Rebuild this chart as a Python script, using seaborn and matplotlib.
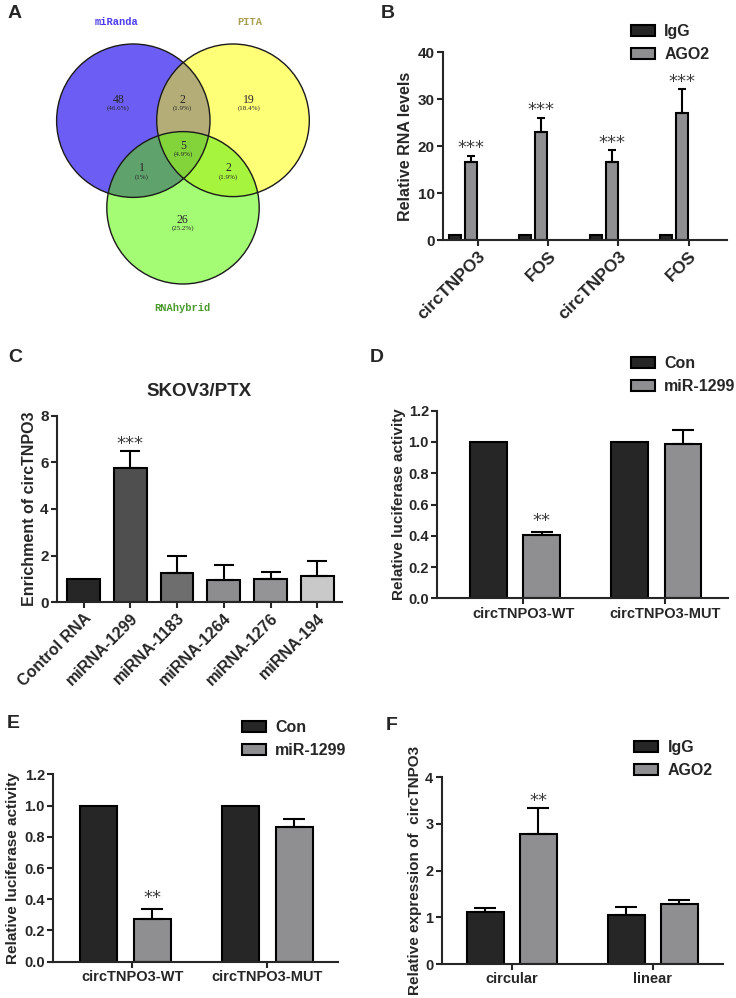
import matplotlib
matplotlib.use('Agg')
import matplotlib.pyplot as plt
from matplotlib.patches import Circle, Patch
import seaborn as sns
import pandas as pd
import numpy as np

# ---- data ----
# A: Venn of predicted miRNAs
venn_names = ['miRanda', 'PITA', 'RNAhybrid']
venn_regions = ['100', '010', '001', '110', '101', '011', '111']
venn_counts = [48, 19, 26, 2, 1, 2, 5]

# B: RIP, IgG vs AGO2
b_labels = ['circTNPO3', 'FOS', 'circTNPO3', 'FOS']
b_series = ['IgG', 'AGO2']
b_igg = [1.0, 1.0, 1.0, 1.0]
b_igg_err = [0, 0, 0, 0]
b_ago2 = [16.6, 23.1, 16.6, 27.1]
b_ago2_err = [1.4, 3.0, 2.5, 5.0]

# C: biotin pulldown, SKOV3/PTX
c_labels = ['Control RNA', 'miRNA-1299', 'miRNA-1183', 'miRNA-1264', 'miRNA-1276', 'miRNA-194']
c_values = [1.0, 5.75, 1.24, 0.96, 0.99, 1.13]
c_err = [0, 0.75, 0.76, 0.64, 0.32, 0.66]

# D / E: luciferase reporter
lucif_groups = ['circTNPO3-WT', 'circTNPO3-MUT']
lucif_series = ['Con', 'miR-1299']
d_con = [1.0, 1.0]
d_con_err = [0, 0]
d_mir = [0.405, 0.99]
d_mir_err = [0.022, 0.085]
e_con = [1.0, 1.0]
e_con_err = [0, 0]
e_mir = [0.275, 0.86]
e_mir_err = [0.065, 0.055]

# F: RIP circular vs linear
f_groups = ['circular', 'linear']
f_series = ['IgG', 'AGO2']
f_igg = [1.11, 1.06]
f_igg_err = [0.10, 0.16]
f_ago2 = [2.78, 1.29]
f_ago2_err = [0.57, 0.09]

DARK = '#262626'
GREY = '#8f8f92'
c_colors = ['#262626', '#4f4f4f', '#6e6e6e', '#8d8d90', '#949497', '#c9c9c9']

sns.set_style('ticks')
plt.rcParams['font.family'] = ['Liberation Sans', 'DejaVu Sans']
plt.rcParams['font.weight'] = 'bold'
plt.rcParams['axes.labelweight'] = 'bold'
plt.rcParams['axes.titleweight'] = 'bold'

W, H = 736, 998
fig = plt.figure(figsize=(W / 100, H / 100), dpi=100)


def add_ax(left, top, right, bottom):
    return fig.add_axes([left / W, 1 - bottom / H, (right - left) / W, (bottom - top) / H])


def style(ax, ylim, yticks, fmt='{:g}', size=10):
    sns.despine(ax=ax)
    for s in ['left', 'bottom']:
        ax.spines[s].set_linewidth(1.5)
    ax.set_ylim(*ylim)
    ax.set_yticks(yticks, [fmt.format(t) for t in yticks])
    ax.tick_params(width=1.5, length=4, labelsize=size, pad=2)


def stars(ax, xs, tops, text, off):
    for x, y in zip(xs, tops):
        ax.annotate(text, (x, y), xytext=(0, off), textcoords='offset points',
                    ha='center', va='baseline', fontsize=13, fontweight='normal',
                    color='#3a3a3a', family='DejaVu Sans')


def grouped(ax, groups, names, series, errs, colors, width, gap, capsize):
    n, k = len(groups), len(names)
    df = pd.DataFrame({
        'x': np.tile(np.arange(n), k),
        'series': np.repeat(names, n),
        'value': np.concatenate(series),
    })
    sns.barplot(data=df, x='x', y='value', hue='series', hue_order=names,
                palette=colors, width=width, gap=gap, edgecolor='black',
                linewidth=1.5, errorbar=None, legend=False, saturation=1, ax=ax)
    centers = []
    for j in range(k):
        xs = np.arange(n) + (j - (k - 1) / 2) * width / k
        vals = np.array(series[j])
        e = np.array(errs[j])
        m = e > 0
        if m.any():
            ax.errorbar(xs[m], vals[m], yerr=[np.zeros(m.sum()), e[m]], fmt='none',
                        ecolor='black', elinewidth=1.5, capsize=capsize, capthick=1.5)
        centers.append(xs)
    return centers


def legend(names, colors, x, y):
    handles = [Patch(facecolor=c, edgecolor='black', linewidth=1.5, label=nm)
               for nm, c in zip(names, colors)]
    fig.legend(handles=handles, loc='upper left', bbox_to_anchor=(x / W, 1 - y / H),
               frameon=False, borderpad=0, borderaxespad=0, handlelength=1.5,
               handleheight=0.72, handletextpad=0.6, labelspacing=0.5,
               prop={'size': 11.5, 'weight': 'bold'})


# ---- A: Venn ----
axA = add_ax(0, 0, 360, 320)
circles = [(133.3, 120.7, 76.7), (233.0, 120.3, 76.3), (183.0, 207.8, 76.2)]
region_colors = {'000': '#ffffff', '100': '#6c5ef5', '010': '#ffff78', '001': '#a4fc74',
                 '110': '#b5ad78', '101': '#60a26c', '011': '#a8f43e', '111': '#84d33a'}
gx, gy = np.meshgrid(np.linspace(0, 360, 1440), np.linspace(0, 320, 1280))
codes = np.zeros(gx.shape, dtype=int)
for i, (cx, cy, r) in enumerate(circles):
    codes += ((gx - cx) ** 2 + (gy - cy) ** 2 <= r ** 2).astype(int) << (2 - i)
lut = np.array([matplotlib.colors.to_rgb(region_colors[format(v, '03b')]) for v in range(8)])
axA.imshow(lut[codes], extent=(0, 360, 320, 0), interpolation='antialiased')
for cx, cy, r in circles:
    axA.add_patch(Circle((cx, cy), r, fill=False, ec='#1a1a1a', lw=1))
axA.set_xlim(0, 360)
axA.set_ylim(320, 0)
axA.axis('off')

total = sum(venn_counts)
region_pos = {'100': (118.3, 100), '010': (249.3, 100), '001': (182.7, 220),
              '110': (182.7, 100), '101': (141.7, 168.3), '011': (228.3, 168.3),
              '111': (183.0, 145.7)}
for reg, cnt in zip(venn_regions, venn_counts):
    px, py = region_pos[reg]
    pct = round(100 * cnt / total, 1)
    axA.text(px, py, str(cnt), ha='center', va='center', fontsize=8.5,
             family='Liberation Serif', fontweight='normal')
    axA.text(px, py + 8.5, f'({pct:g}%)', ha='center', va='center', fontsize=5,
             family='Liberation Serif', fontweight='normal')
name_pos = [(116.7, 22.3, '#4b3cf0'), (249.3, 22.3, '#a8a050'), (182.7, 308.3, '#4a9a30')]
for nm, (px, py, col) in zip(venn_names, name_pos):
    axA.text(px, py, nm, ha='center', va='center', fontsize=7.5, color=col,
             family='Liberation Mono', fontweight='bold')

# ---- B ----
axB = add_ax(443, 52.3, 727, 240)
cB = grouped(axB, b_labels, b_series, [b_igg, b_ago2], [b_igg_err, b_ago2_err],
             [DARK, GREY], 0.456, 0.25, 2.6)
style(axB, (0, 40), [0, 10, 20, 30, 40], size=11)
axB.set_xlim(-0.285, 3.755)
axB.set_xticks(np.arange(4) + 0.21, b_labels, rotation=45, ha='right',
               rotation_mode='anchor', fontsize=12.5)
axB.set_xlabel('')
axB.set_ylabel('Relative RNA levels', fontsize=11.5, labelpad=3)
stars(axB, cB[1], np.array(b_ago2) + np.array(b_ago2_err), '***', 2)
legend(b_series, [DARK, GREY], 630.7, 24)

# ---- C ----
axC = add_ax(57, 415.7, 342, 602.3)
dfC = pd.DataFrame({'label': c_labels, 'value': c_values})
sns.barplot(data=dfC, x='label', y='value', hue='label', palette=c_colors,
            width=0.7, edgecolor='black', linewidth=1.5, errorbar=None,
            legend=False, saturation=1, ax=axC)
ce = np.array(c_err)
m = ce > 0
axC.errorbar(np.arange(6)[m], np.array(c_values)[m], yerr=[np.zeros(m.sum()), ce[m]],
             fmt='none', ecolor='black', elinewidth=1.5, capsize=7, capthick=1.5)
style(axC, (0, 8), [0, 2, 4, 6, 8], size=11)
axC.set_xlim(-0.57, 5.53)
axC.set_xticks(range(6), c_labels, rotation=45, ha='right', rotation_mode='anchor',
               fontsize=11.5)
axC.set_xlabel('')
axC.set_ylabel('Enrichment of circTNPO3', fontsize=11.5, labelpad=2)
axC.set_title('SKOV3/PTX', fontsize=13.5, pad=14)
stars(axC, [1], [c_values[1] + c_err[1]], '***', 1)

# ---- D ----
axD = add_ax(437.3, 410.7, 728, 598.3)
cD = grouped(axD, lucif_groups, lucif_series, [d_con, d_mir], [d_con_err, d_mir_err],
             [DARK, GREY], 0.756, 0.31, 8)
style(axD, (0, 1.2), [0, 0.2, 0.4, 0.6, 0.8, 1.0, 1.2], '{:.1f}', size=10.5)
axD.set_xlim(-0.55, 1.508)
axD.set_xticks([0.06, 1.06], lucif_groups, fontsize=10.5)
axD.set_xlabel('')
axD.set_ylabel('Relative luciferase activity', fontsize=11, labelpad=2)
stars(axD, [cD[1][0]], [d_mir[0] + d_mir_err[0]], '**', 4)
legend(lucif_series, [DARK, GREY], 630.7, 356)

# ---- E ----
axE = add_ax(53.3, 774.3, 338.3, 961.7)
cE = grouped(axE, lucif_groups, lucif_series, [e_con, e_mir], [e_con_err, e_mir_err],
             [DARK, GREY], 0.756, 0.31, 8)
style(axE, (0, 1.2), [0, 0.2, 0.4, 0.6, 0.8, 1.0, 1.2], '{:.1f}', size=10.5)
axE.set_xlim(-0.507, 1.5)
axE.set_xticks([0.05, 1.0], lucif_groups, fontsize=10.5)
axE.set_xlabel('')
axE.set_ylabel('Relative luciferase activity', fontsize=11, labelpad=3)
stars(axE, [cE[1][0]], [e_mir[0] + e_mir_err[0]], '**', 4)
legend(lucif_series, [DARK, GREY], 241.7, 720)

# ---- F ----
axF = add_ax(441.7, 777.3, 722.7, 964)
cF = grouped(axF, f_groups, f_series, [f_igg, f_ago2], [f_igg_err, f_ago2_err],
             [DARK, GREY], 0.752, 0.31, 8)
style(axF, (0, 4), [0, 1, 2, 3, 4], size=10.5)
axF.set_xlim(-0.497, 1.496)
axF.set_xticks([0, 1], f_groups, fontsize=10.5)
axF.set_xlabel('')
axF.set_ylabel('Relative expression of  circTNPO3', fontsize=11, labelpad=2)
stars(axF, [cF[1][0]], [f_ago2[0] + f_ago2_err[0]], '**', 1)
legend(f_series, [DARK, GREY], 634, 740)

# panel letters
for letter, (x, y) in zip('ABCDEF', [(15, 13), (388, 13), (15, 357), (377, 357),
                                     (13, 723), (392, 725)]):
    fig.text(x / W, 1 - y / H, letter, fontsize=14, fontweight='bold',
             ha='center', va='center')

fig.savefig('out.png', dpi=100)
